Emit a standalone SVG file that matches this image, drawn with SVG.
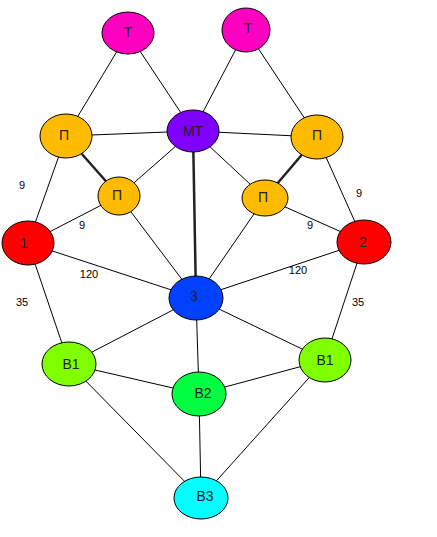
<svg xmlns="http://www.w3.org/2000/svg" width="437" height="537" viewBox="0 0 437 537">
<style>
.e{stroke:#000;stroke-width:1;fill:none}
.t{stroke:#222;stroke-width:2.5;fill:none}
.n ellipse{stroke:#000;stroke-width:1}
.n text{font-family:"Liberation Sans",Arial,sans-serif;font-size:14px;fill:#222;text-anchor:middle;dominant-baseline:central}
.l{font-family:"Liberation Sans",Arial,sans-serif;font-size:11px;fill:#000;text-anchor:middle}
</style>
<rect width="437" height="537" fill="#fff"/>
<g id="connectors">
<line class="e" x1="128" y1="33" x2="66" y2="136"/>
<line class="e" x1="128" y1="33" x2="193" y2="131"/>
<line class="e" x1="246" y1="30" x2="193" y2="131"/>
<line class="e" x1="246" y1="30" x2="317" y2="137"/>
<line class="e" x1="66" y1="136" x2="193" y2="131"/>
<line class="e" x1="193" y1="131" x2="317" y2="137"/>
<line class="t" x1="66" y1="136" x2="119" y2="196"/>
<line class="t" x1="317" y1="137" x2="265" y2="198"/>
<line class="e" x1="193" y1="131" x2="119" y2="196"/>
<line class="e" x1="193" y1="131" x2="265" y2="198"/>
<line class="t" x1="193" y1="131" x2="196" y2="298"/>
<line class="e" x1="66" y1="136" x2="28" y2="243"/>
<line class="e" x1="119" y1="196" x2="28" y2="243"/>
<line class="e" x1="119" y1="196" x2="196" y2="298"/>
<line class="e" x1="265" y1="198" x2="196" y2="298"/>
<line class="e" x1="265" y1="198" x2="364" y2="242"/>
<line class="e" x1="317" y1="137" x2="364" y2="242"/>
<line class="e" x1="28" y1="243" x2="196" y2="298"/>
<line class="e" x1="364" y1="242" x2="196" y2="298"/>
<line class="e" x1="28" y1="243" x2="69" y2="364"/>
<line class="e" x1="364" y1="242" x2="325" y2="360"/>
<line class="e" x1="196" y1="298" x2="69" y2="364"/>
<line class="e" x1="196" y1="298" x2="325" y2="360"/>
<line class="e" x1="196" y1="298" x2="199" y2="394"/>
<line class="e" x1="69" y1="364" x2="199" y2="394"/>
<line class="e" x1="199" y1="394" x2="325" y2="360"/>
<line class="e" x1="69" y1="364" x2="201" y2="498"/>
<line class="e" x1="199" y1="394" x2="201" y2="498"/>
<line class="e" x1="325" y1="360" x2="201" y2="498"/>
<text class="l" x="22" y="189">9</text>
<text class="l" x="82" y="229">9</text>
<text class="l" x="89" y="278">120</text>
<text class="l" x="22" y="306">35</text>
<text class="l" x="359" y="197">9</text>
<text class="l" x="310" y="229">9</text>
<text class="l" x="298" y="274">120</text>
<text class="l" x="358" y="306">35</text>
</g>
<g id="T1" class="n"><ellipse cx="128" cy="33" rx="26" ry="21" fill="#ff00c0"/><text x="128" y="32">Т</text></g>
<g id="T2" class="n"><ellipse cx="246" cy="30" rx="24" ry="22" fill="#ff00c0"/><text x="248" y="28">Т</text></g>
<g id="P1" class="n"><ellipse cx="66" cy="136" rx="26" ry="22" fill="#ffbb00"/><text x="64" y="135">П</text></g>
<g id="MT" class="n"><ellipse cx="193" cy="131" rx="26" ry="21" fill="#8000ff"/><text x="193" y="131">МТ</text></g>
<g id="P2" class="n"><ellipse cx="317" cy="137" rx="26" ry="22" fill="#ffbb00"/><text x="317" y="135">П</text></g>
<g id="P3" class="n"><ellipse cx="119" cy="196" rx="21" ry="19" fill="#ffbb00"/><text x="117" y="195">П</text></g>
<g id="P4" class="n"><ellipse cx="265" cy="198" rx="23" ry="18" fill="#ffbb00"/><text x="263" y="197">П</text></g>
<g id="N1" class="n"><ellipse cx="28" cy="243" rx="26" ry="22" fill="#ff0000"/><text x="24" y="243">1</text></g>
<g id="N2" class="n"><ellipse cx="364" cy="242" rx="27" ry="22" fill="#ff0000"/><text x="363" y="242">2</text></g>
<g id="N3" class="n"><ellipse cx="196" cy="298" rx="27" ry="22" fill="#0040ff"/><text x="194" y="296">3</text></g>
<g id="B1L" class="n"><ellipse cx="69" cy="364" rx="27" ry="22" fill="#80ff00"/><text x="71" y="364">В1</text></g>
<g id="B2" class="n"><ellipse cx="199" cy="394" rx="27" ry="22" fill="#00ff40"/><text x="203" y="393">В2</text></g>
<g id="B1R" class="n"><ellipse cx="325" cy="360" rx="26" ry="22" fill="#80ff00"/><text x="325" y="360">В1</text></g>
<g id="B3" class="n"><ellipse cx="201" cy="498" rx="27" ry="21" fill="#00ffff"/><text x="205" y="496">В3</text></g>
</svg>
